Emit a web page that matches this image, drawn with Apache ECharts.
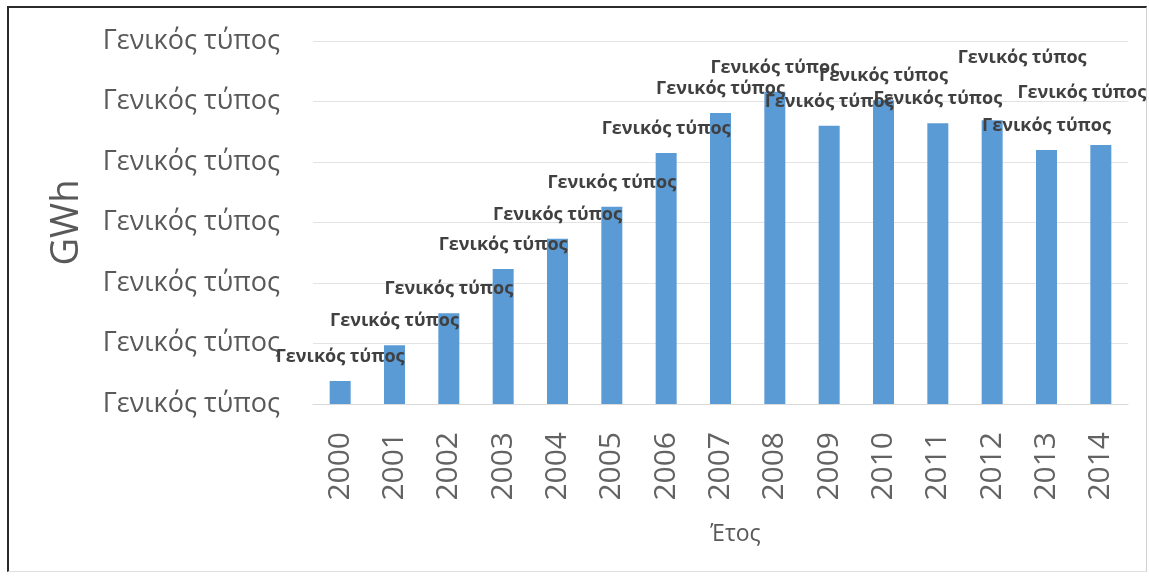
<!DOCTYPE html>
<html>
<head>
<meta charset="utf-8">
<script src="https://cdn.jsdelivr.net/npm/echarts@6/dist/echarts.min.js"></script>
<style>
  html, body { margin: 0; padding: 0; background: #fff; }
  #chart { width: 1149px; height: 581px; }
  #frame { position: absolute; left: 7px; top: 6px; width: 1137px; height: 563px;
           border-top: 2px solid #2b2b2b; border-left: 2px solid #2b2b2b;
           border-right: 1px solid #d0d0d0; border-bottom: 1px solid #e0e0e0; pointer-events: none; }
</style>
</head>
<body>
<div id="chart"></div>
<div id="frame"></div>
<script>
const years = ['2000','2001','2002','2003','2004','2005','2006','2007','2008','2009','2010','2011','2012','2013','2014'];
const gwh = [0.38, 0.97, 1.50, 2.23, 2.73, 3.26, 4.15, 4.81, 5.16, 4.60, 5.02, 4.64, 4.69, 4.20, 4.28];
const yTickLabels = ['Γενικός τύπος','Γενικός τύπος','Γενικός τύπος','Γενικός τύπος','Γενικός τύπος','Γενικός τύπος','Γενικός τύπος'];
const dataLabelText = 'Γενικός τύπος';
const yAxisTitle = 'GWh';
const xAxisTitle = 'Έτος';
// label nudges (moved labels in the original to avoid collisions)
const labelNudge = { '2012': [30, -38], '2014': [-19, -28] };

const FONT = 'Open Sans';
const chart = echarts.init(document.getElementById('chart'), null, { renderer: 'canvas' });
chart.setOption({
  animation: false,
  grid: { left: 313, right: 21, top: 41, bottom: 177 },
  xAxis: {
    type: 'category',
    data: years,
    name: xAxisTitle,
    nameLocation: 'middle',
    nameGap: 119,
    nameTextStyle: { fontFamily: FONT, fontSize: 23, color: '#595959', padding: [0, 0, 0, 30] },
    axisLine: { lineStyle: { color: '#d9d9d9', width: 1 } },
    axisTick: { show: false },
    axisLabel: { rotate: 90, margin: 28, fontFamily: FONT, fontSize: 30, color: '#636363' }
  },
  yAxis: {
    type: 'value',
    min: 0, max: 6, interval: 1,
    name: yAxisTitle,
    nameLocation: 'middle',
    nameRotate: 90,
    nameGap: 227,
    nameTextStyle: { fontFamily: FONT, fontSize: 38, color: '#595959' },
    axisLine: { show: false },
    axisTick: { show: false },
    splitLine: { lineStyle: { color: '#e3e3e3', width: 1 } },
    axisLabel: {
      margin: 33, fontFamily: FONT, fontSize: 27, color: '#595959',
      formatter: (v, i) => yTickLabels[i]
    }
  },
  series: [{
    type: 'bar',
    barWidth: 21,
    itemStyle: { color: '#5b9bd5' },
    data: gwh.map((v, i) => {
      const d = { value: v };
      if (labelNudge[years[i]]) d.label = { offset: labelNudge[years[i]] };
      return d;
    }),
    label: {
      show: true,
      position: 'top',
      distance: 15,
      fontFamily: FONT,
      fontSize: 18,
      fontWeight: 'bold',
      color: '#404040',
      formatter: () => dataLabelText
    },
    z: 2
  }]
});
</script>
</body>
</html>
